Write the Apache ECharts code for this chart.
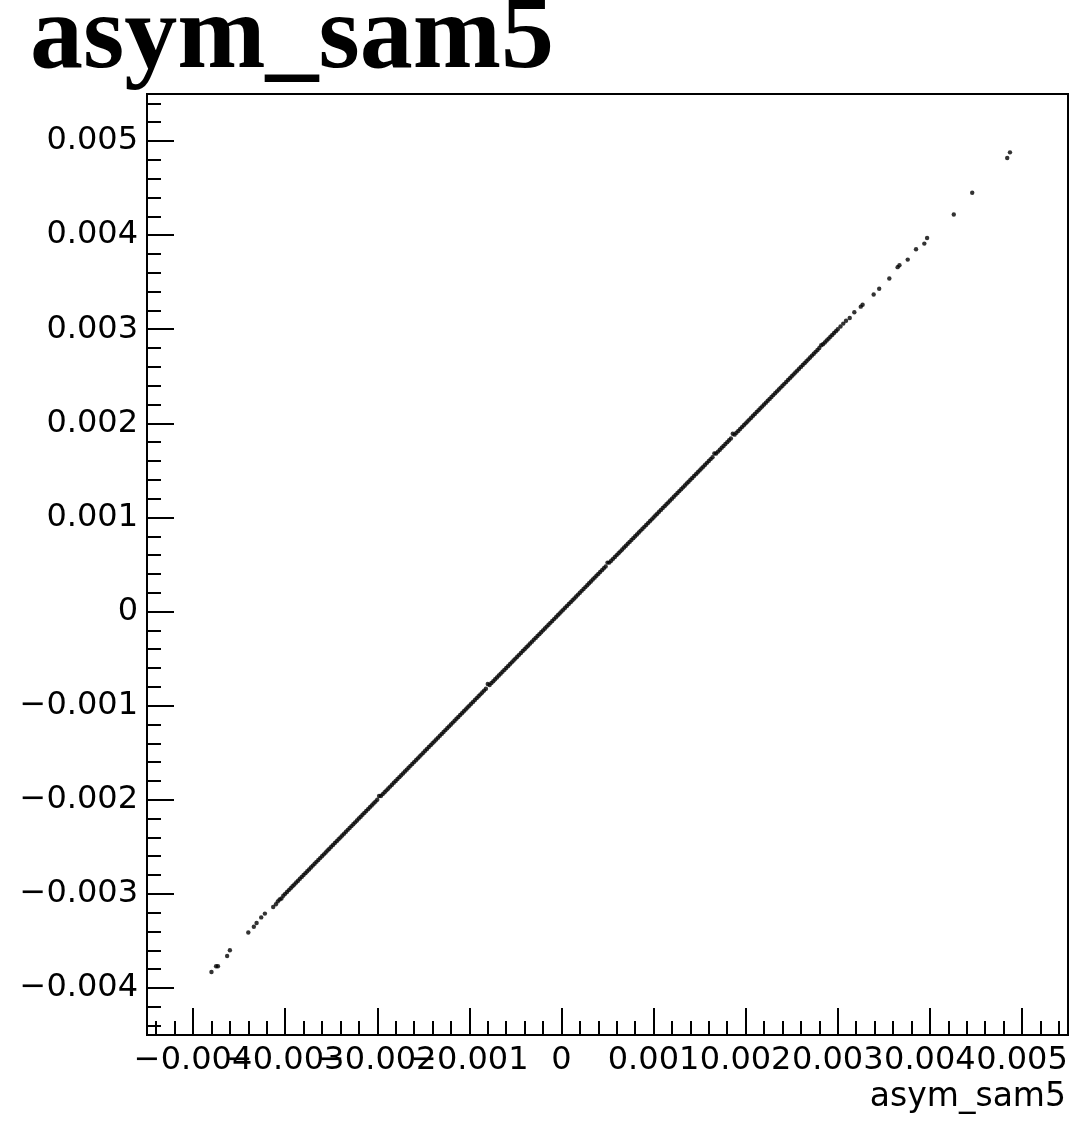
<!DOCTYPE html>
<html>
<head>
<meta charset="utf-8">
<title>asym_sam5</title>
<script src="https://cdn.jsdelivr.net/npm/echarts@6/dist/echarts.min.js"></script>
<style>
  html, body { margin: 0; padding: 0; background: #fff; }
  #chart { width: 1088px; height: 1128px; }
</style>
</head>
<body>
<div id="chart"></div>
<script>
// axis range and tick labels (same for both axes)
var axisMin = -0.0045;
var axisMax = 0.0055;
var majorTicks = [-0.004, -0.003, -0.002, -0.001, 0, 0.001, 0.002, 0.003, 0.004, 0.005];

// sparse points, low end
var lowX = [-0.00380, -0.00375, -0.00373, -0.00363, -0.00360, -0.00340, -0.00334, -0.00331, -0.00326, -0.00322, -0.00313];
var lowY = [-0.00383, -0.00377, -0.00377, -0.00366, -0.00360, -0.00341, -0.00335, -0.00331, -0.00325, -0.00321, -0.00314];

// dense band along the diagonal
var lineX = [
  -0.00310,-0.00308,-0.00306,-0.00304,-0.00302,-0.00300,-0.00298,-0.00296,-0.00294,-0.00292,
  -0.00290,-0.00288,-0.00286,-0.00284,-0.00282,-0.00280,-0.00278,-0.00276,-0.00274,-0.00272,
  -0.00270,-0.00268,-0.00266,-0.00264,-0.00262,-0.00260,-0.00258,-0.00256,-0.00254,-0.00252,
  -0.00250,-0.00248,-0.00246,-0.00244,-0.00242,-0.00240,-0.00238,-0.00236,-0.00234,-0.00232,
  -0.00230,-0.00228,-0.00226,-0.00224,-0.00222,-0.00220,-0.00218,-0.00216,-0.00214,-0.00212,
  -0.00210,-0.00208,-0.00206,-0.00204,-0.00202,-0.00200,-0.00198,-0.00196,-0.00194,-0.00192,
  -0.00190,-0.00188,-0.00186,-0.00184,-0.00182,-0.00180,-0.00178,-0.00176,-0.00174,-0.00172,
  -0.00170,-0.00168,-0.00166,-0.00164,-0.00162,-0.00160,-0.00158,-0.00156,-0.00154,-0.00152,
  -0.00150,-0.00148,-0.00146,-0.00144,-0.00142,-0.00140,-0.00138,-0.00136,-0.00134,-0.00132,
  -0.00130,-0.00128,-0.00126,-0.00124,-0.00122,-0.00120,-0.00118,-0.00116,-0.00114,-0.00112,
  -0.00110,-0.00108,-0.00106,-0.00104,-0.00102,-0.00100,-0.00098,-0.00096,-0.00094,-0.00092,
  -0.00090,-0.00088,-0.00086,-0.00084,-0.00082,-0.00080,-0.00078,-0.00076,-0.00074,-0.00072,
  -0.00070,-0.00068,-0.00066,-0.00064,-0.00062,-0.00060,-0.00058,-0.00056,-0.00054,-0.00052,
  -0.00050,-0.00048,-0.00046,-0.00044,-0.00042,-0.00040,-0.00038,-0.00036,-0.00034,-0.00032,
  -0.00030,-0.00028,-0.00026,-0.00024,-0.00022,-0.00020,-0.00018,-0.00016,-0.00014,-0.00012,
  -0.00010,-0.00008,-0.00006,-0.00004,-0.00002, 0.00000, 0.00002, 0.00004, 0.00006, 0.00008,
   0.00010, 0.00012, 0.00014, 0.00016, 0.00018, 0.00020, 0.00022, 0.00024, 0.00026, 0.00028,
   0.00030, 0.00032, 0.00034, 0.00036, 0.00038, 0.00040, 0.00042, 0.00044, 0.00046, 0.00048,
   0.00050, 0.00052, 0.00054, 0.00056, 0.00058, 0.00060, 0.00062, 0.00064, 0.00066, 0.00068,
   0.00070, 0.00072, 0.00074, 0.00076, 0.00078, 0.00080, 0.00082, 0.00084, 0.00086, 0.00088,
   0.00090, 0.00092, 0.00094, 0.00096, 0.00098, 0.00100, 0.00102, 0.00104, 0.00106, 0.00108,
   0.00110, 0.00112, 0.00114, 0.00116, 0.00118, 0.00120, 0.00122, 0.00124, 0.00126, 0.00128,
   0.00130, 0.00132, 0.00134, 0.00136, 0.00138, 0.00140, 0.00142, 0.00144, 0.00146, 0.00148,
   0.00150, 0.00152, 0.00154, 0.00156, 0.00158, 0.00160, 0.00162, 0.00164, 0.00166, 0.00168,
   0.00170, 0.00172, 0.00174, 0.00176, 0.00178, 0.00180, 0.00182, 0.00184, 0.00186, 0.00188,
   0.00190, 0.00192, 0.00194, 0.00196, 0.00198, 0.00200, 0.00202, 0.00204, 0.00206, 0.00208,
   0.00210, 0.00212, 0.00214, 0.00216, 0.00218, 0.00220, 0.00222, 0.00224, 0.00226, 0.00228,
   0.00230, 0.00232, 0.00234, 0.00236, 0.00238, 0.00240, 0.00242, 0.00244, 0.00246, 0.00248,
   0.00250, 0.00252, 0.00254, 0.00256, 0.00258, 0.00260, 0.00262, 0.00264, 0.00266, 0.00268,
   0.00270, 0.00272, 0.00274, 0.00276, 0.00278, 0.00280, 0.00282, 0.00284, 0.00286, 0.00288,
   0.00290, 0.00292, 0.00294, 0.00296, 0.00298, 0.00300
];
var lineY = [
  -0.00311,-0.00308,-0.00306,-0.00305,-0.00302,-0.00300,-0.00298,-0.00296,-0.00294,-0.00292,
  -0.00290,-0.00288,-0.00286,-0.00284,-0.00282,-0.00280,-0.00278,-0.00276,-0.00274,-0.00272,
  -0.00270,-0.00268,-0.00266,-0.00264,-0.00262,-0.00260,-0.00258,-0.00256,-0.00254,-0.00252,
  -0.00250,-0.00248,-0.00246,-0.00244,-0.00242,-0.00240,-0.00238,-0.00236,-0.00234,-0.00232,
  -0.00230,-0.00228,-0.00226,-0.00224,-0.00222,-0.00220,-0.00218,-0.00216,-0.00214,-0.00212,
  -0.00210,-0.00208,-0.00206,-0.00204,-0.00202,-0.00200,-0.00196,-0.00196,-0.00194,-0.00192,
  -0.00190,-0.00188,-0.00186,-0.00184,-0.00182,-0.00180,-0.00178,-0.00176,-0.00174,-0.00172,
  -0.00170,-0.00168,-0.00166,-0.00164,-0.00162,-0.00160,-0.00158,-0.00156,-0.00154,-0.00152,
  -0.00150,-0.00148,-0.00146,-0.00144,-0.00142,-0.00140,-0.00138,-0.00136,-0.00134,-0.00132,
  -0.00130,-0.00128,-0.00126,-0.00124,-0.00122,-0.00120,-0.00118,-0.00116,-0.00114,-0.00112,
  -0.00110,-0.00108,-0.00106,-0.00104,-0.00102,-0.00100,-0.00098,-0.00096,-0.00094,-0.00092,
  -0.00090,-0.00088,-0.00086,-0.00084,-0.00082,-0.00077,-0.00078,-0.00076,-0.00074,-0.00072,
  -0.00070,-0.00068,-0.00066,-0.00064,-0.00062,-0.00060,-0.00058,-0.00056,-0.00054,-0.00052,
  -0.00050,-0.00048,-0.00046,-0.00044,-0.00042,-0.00040,-0.00038,-0.00036,-0.00034,-0.00032,
  -0.00030,-0.00028,-0.00026,-0.00024,-0.00022,-0.00020,-0.00018,-0.00016,-0.00014,-0.00012,
  -0.00010,-0.00008,-0.00006,-0.00004,-0.00002, 0.00000, 0.00002, 0.00004, 0.00006, 0.00008,
   0.00010, 0.00012, 0.00014, 0.00016, 0.00018, 0.00020, 0.00022, 0.00024, 0.00026, 0.00028,
   0.00030, 0.00032, 0.00034, 0.00036, 0.00038, 0.00040, 0.00042, 0.00044, 0.00046, 0.00048,
   0.00052, 0.00052, 0.00054, 0.00056, 0.00058, 0.00060, 0.00062, 0.00064, 0.00066, 0.00068,
   0.00070, 0.00072, 0.00074, 0.00076, 0.00078, 0.00080, 0.00082, 0.00084, 0.00086, 0.00088,
   0.00090, 0.00092, 0.00094, 0.00096, 0.00098, 0.00100, 0.00102, 0.00104, 0.00106, 0.00108,
   0.00110, 0.00112, 0.00114, 0.00116, 0.00118, 0.00120, 0.00122, 0.00124, 0.00126, 0.00128,
   0.00130, 0.00132, 0.00134, 0.00136, 0.00138, 0.00140, 0.00142, 0.00144, 0.00146, 0.00148,
   0.00150, 0.00152, 0.00154, 0.00156, 0.00158, 0.00160, 0.00162, 0.00164, 0.00168, 0.00168,
   0.00170, 0.00172, 0.00174, 0.00176, 0.00178, 0.00180, 0.00182, 0.00184, 0.00189, 0.00188,
   0.00190, 0.00192, 0.00194, 0.00196, 0.00198, 0.00200, 0.00202, 0.00204, 0.00206, 0.00208,
   0.00210, 0.00212, 0.00214, 0.00216, 0.00218, 0.00220, 0.00222, 0.00224, 0.00226, 0.00228,
   0.00230, 0.00232, 0.00234, 0.00236, 0.00238, 0.00240, 0.00242, 0.00244, 0.00246, 0.00248,
   0.00250, 0.00252, 0.00254, 0.00256, 0.00258, 0.00260, 0.00262, 0.00264, 0.00266, 0.00268,
   0.00270, 0.00272, 0.00274, 0.00276, 0.00278, 0.00280, 0.00283, 0.00284, 0.00286, 0.00288,
   0.00290, 0.00292, 0.00294, 0.00296, 0.00298, 0.00300
];

// sparse points, high end
var highX = [0.00303, 0.00306, 0.00309, 0.00313, 0.00318, 0.00325, 0.00327, 0.00339, 0.00345, 0.00356, 0.00365, 0.00367, 0.00376, 0.00385, 0.00394, 0.00397, 0.00426, 0.00446, 0.00484, 0.00487];
var highY = [0.00303, 0.00306, 0.00309, 0.00312, 0.00318, 0.00324, 0.00326, 0.00337, 0.00343, 0.00354, 0.00366, 0.00368, 0.00374, 0.00385, 0.00391, 0.00397, 0.00422, 0.00445, 0.00482, 0.00488];

function zip(xs, ys) {
    var out = [];
    for (var i = 0; i < xs.length; i++) {
        out.push([xs[i], ys[i]]);
    }
    return out;
}

var points = zip(lowX, lowY).concat(zip(lineX, lineY), zip(highX, highY));

// minor ticks every 0.0002 (five per major step)
var minorTicks = [];
for (var i = -22; i <= 27; i++) {
    if (i % 5 !== 0) minorTicks.push(i * 0.0002);
}

// x labels overlap each other like in the original, so they are split over
// two label-only axes (otherwise echarts drops one of the overlapping ones)
var xLabelsEven = majorTicks.filter(function (v, i) { return i % 2 === 0; });
var xLabelsOdd = majorTicks.filter(function (v, i) { return i % 2 === 1; });

function fmt(v) {
    if (Math.abs(v) < 1e-12) return '0';
    var s = Math.abs(v).toFixed(3);
    return v < 0 ? '\u2212' + s : s;
}

var labelFont = {
    fontFamily: 'DejaVu Sans',
    fontSize: 32,
    color: '#000'
};

function baseAxis(isX) {
    return {
        type: 'value',
        min: axisMin,
        max: axisMax,
        position: isX ? 'bottom' : 'left',
        offset: 0,
        axisLine: { show: false, onZero: false },
        axisTick: { show: false },
        axisLabel: { show: false },
        splitLine: { show: false }
    };
}

function tickAxis(isX, values, len, withLine) {
    var a = baseAxis(isX);
    a.axisLine = { show: withLine, onZero: false, lineStyle: { color: '#000', width: 2 } };
    a.axisTick = {
        show: true,
        inside: true,
        length: len,
        customValues: values,
        lineStyle: { color: '#000', width: 2 }
    };
    return a;
}

function labelAxis(isX, values) {
    var a = baseAxis(isX);
    a.axisLabel = Object.assign({
        show: true,
        margin: isX ? 10 : 9,
        customValues: values,
        showMinLabel: true,
        showMaxLabel: true,
        hideOverlap: false,
        formatter: fmt
    }, labelFont);
    return a;
}

var option = {
    animation: false,
    backgroundColor: '#fff',
    title: {
        text: 'asym_sam5',
        left: 30,
        top: -13,
        padding: 0,
        textStyle: {
            fontFamily: 'Liberation Serif',
            fontWeight: 'bold',
            fontSize: 106,
            color: '#000'
        }
    },
    grid: {
        left: 147,
        top: 94,
        right: 20,
        bottom: 93,
        show: true,
        borderColor: '#000',
        borderWidth: 2,
        backgroundColor: 'transparent',
        containLabel: false,
        outerBoundsMode: 'none'
    },
    xAxis: [
        tickAxis(true, majorTicks, 27, true),
        tickAxis(true, minorTicks, 14, false),
        labelAxis(true, xLabelsEven),
        labelAxis(true, xLabelsOdd)
    ],
    yAxis: [
        tickAxis(false, majorTicks, 27, true),
        tickAxis(false, minorTicks, 14, false),
        labelAxis(false, majorTicks)
    ],
    graphic: [{
        type: 'text',
        right: 22,
        top: 1081,
        style: {
            text: 'asym_sam5',
            fontFamily: 'DejaVu Sans',
            fontSize: 33,
            fill: '#000'
        }
    }],
    series: [{
        type: 'scatter',
        xAxisIndex: 0,
        yAxisIndex: 0,
        symbol: 'circle',
        symbolSize: 4.4,
        itemStyle: { color: '#000' },
        data: points
    }]
};

var myChart = echarts.init(document.getElementById('chart'));
myChart.setOption(option);
</script>
</body>
</html>
